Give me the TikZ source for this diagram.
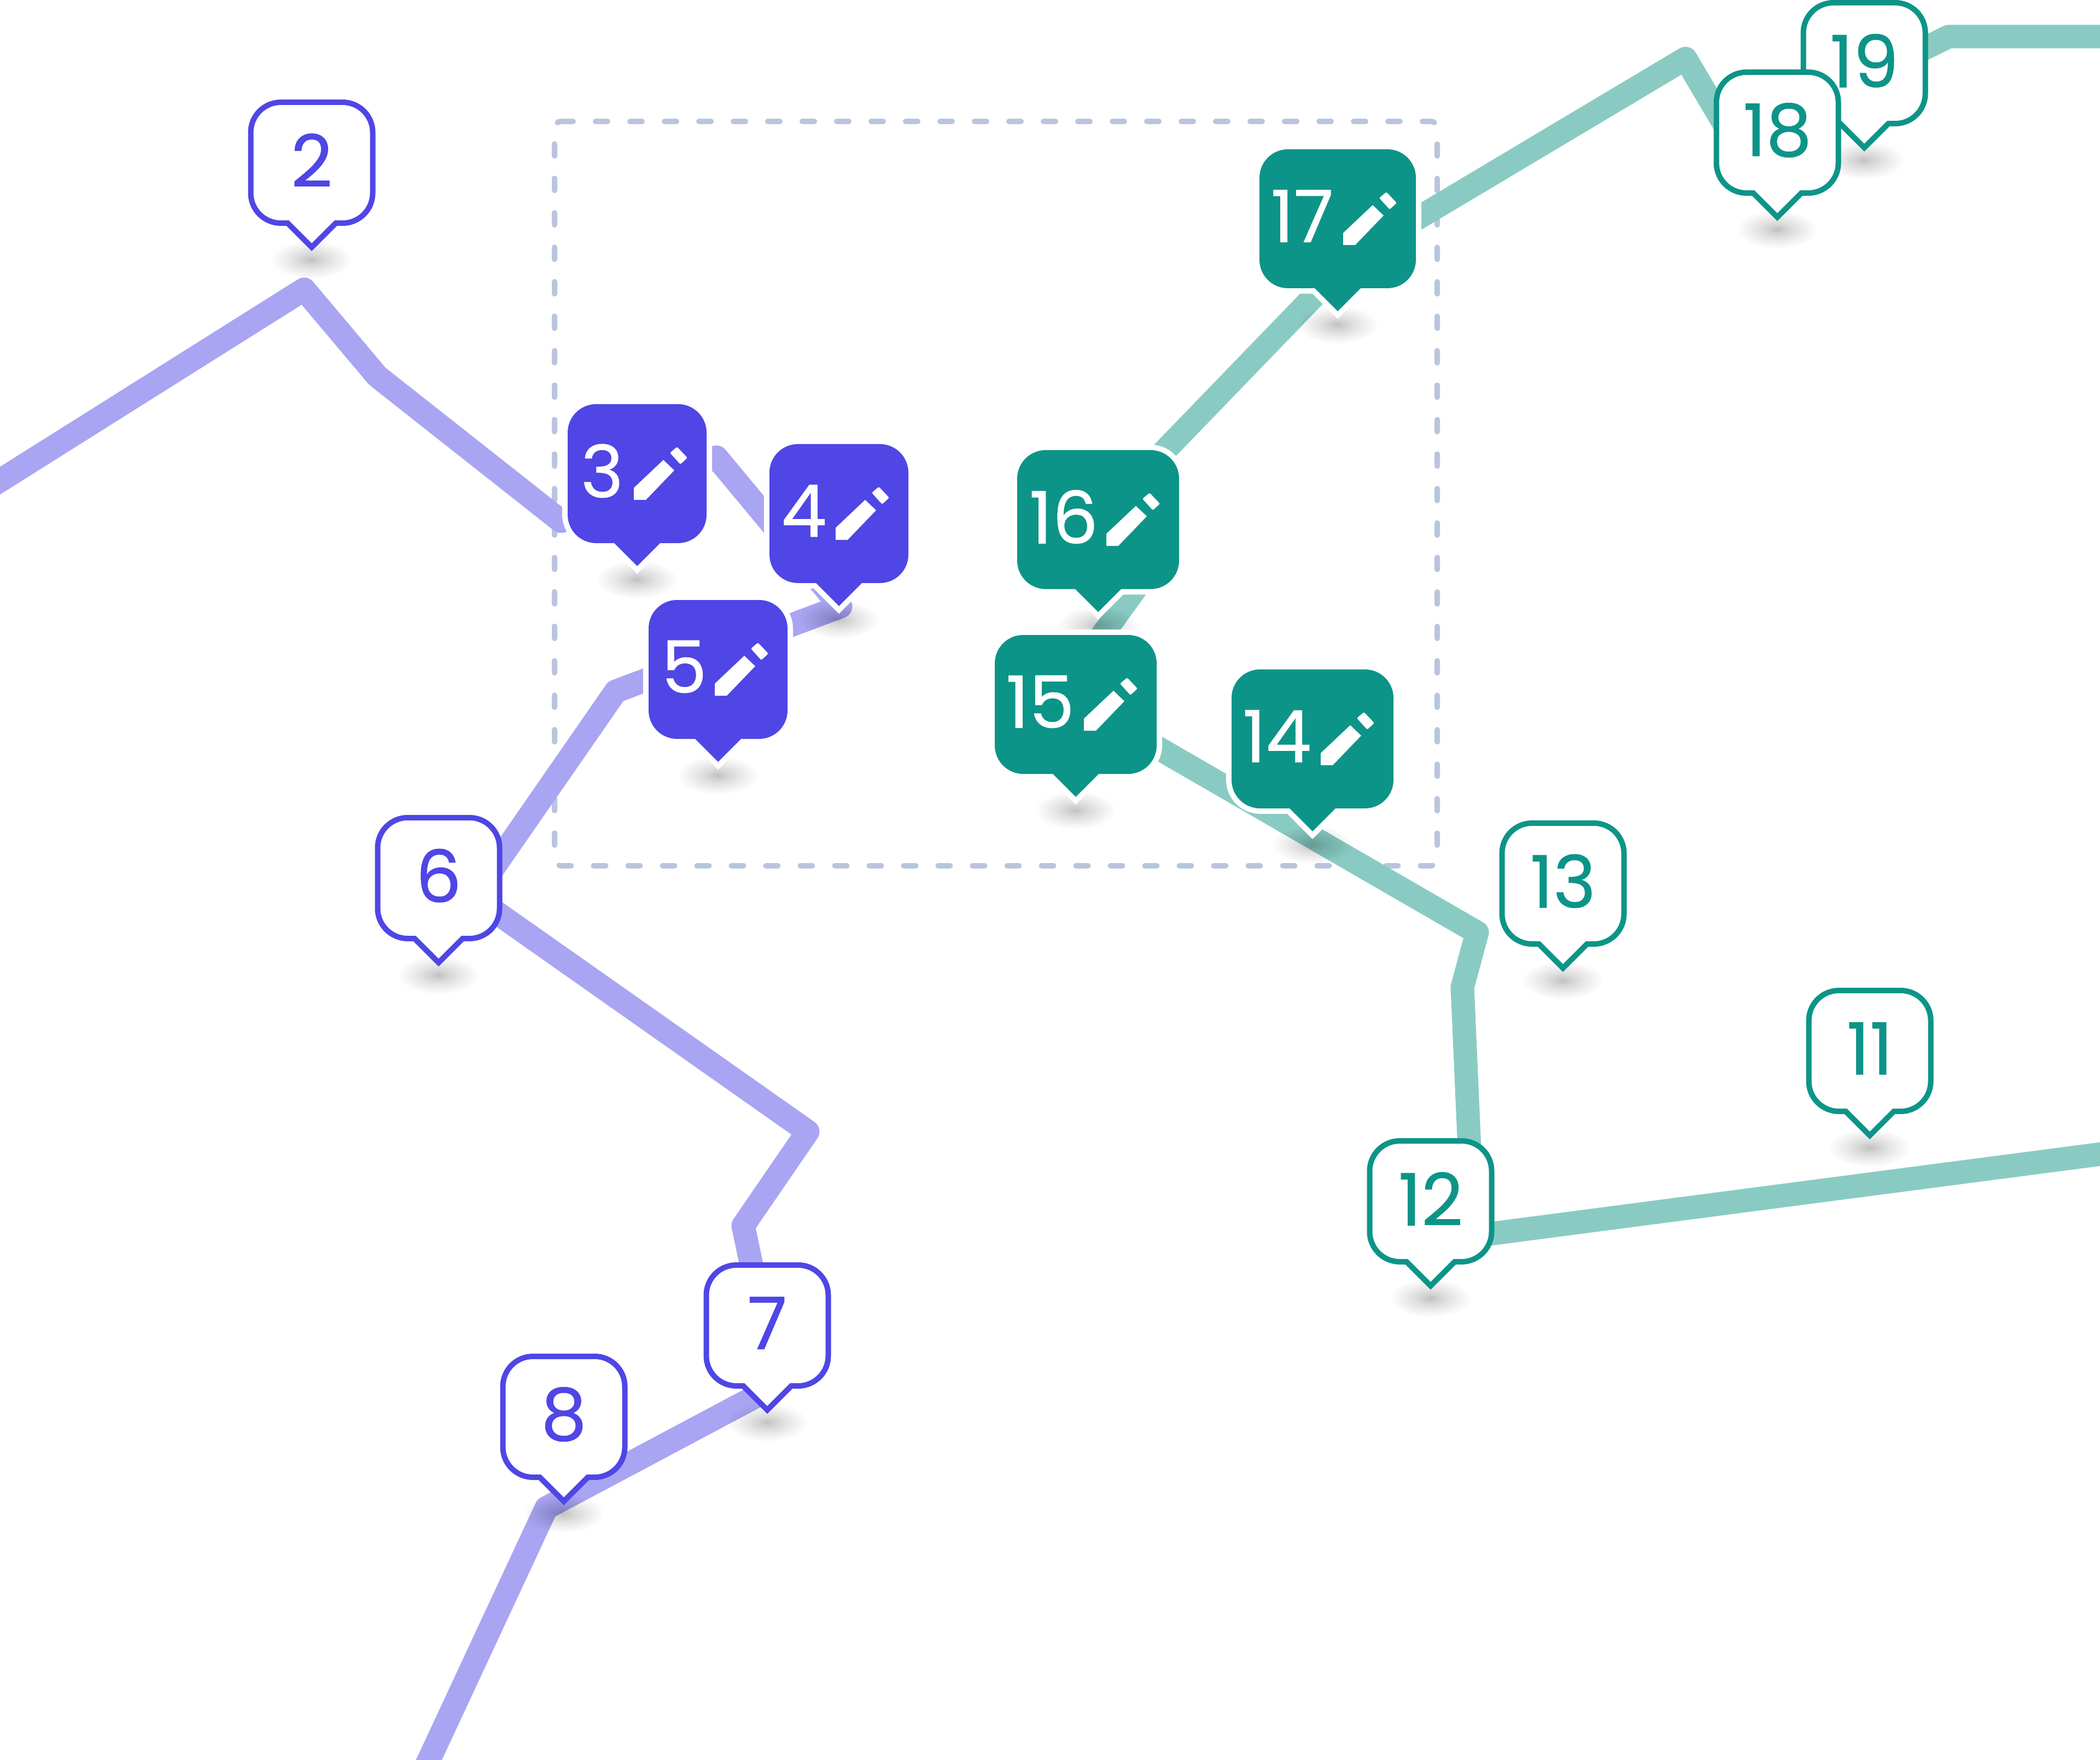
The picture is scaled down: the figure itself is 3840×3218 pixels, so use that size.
\documentclass[tikz,border=0pt]{standalone}
\usepackage{fontspec}
\setmainfont{Poppins}
\newfontfamily\digitfont[FakeBold=0.7]{Poppins}
\definecolor{indigoD}{HTML}{4F46E5}
\definecolor{indigoL}{HTML}{A9A5F2}
\definecolor{tealD}{HTML}{0D9488}
\definecolor{tealL}{HTML}{89CBC2}
\definecolor{frameC}{HTML}{B9C5DD}
\tikzset{
  trace/.style={line width=10.75pt,line join=round,line cap=round},
  frameline/.style={draw=frameC,line width=2.5pt,line cap=round,dash pattern=on 5.5pt off 10.25pt,rounded corners=3pt},
  digit/.style={inner sep=0pt,font=\digitfont\fontsize{33}{33}\selectfont},
  halo/.style={draw=white,line width=5pt,miter limit=10,line join=miter},
  outline/.style={line width=2.5pt,fill=white,miter limit=10,line join=miter}
}
% soft shadow: stacked translucent ellipses
\newcommand{\softshadow}[2]{%
  \foreach \i in {1,...,16}{%
    \pgfmathsetmacro\rx{18*(\i/16)^1.4}%
    \pgfmathsetmacro\ry{8.5*(\i/16)^1.4}%
    \fill[black,opacity=0.017] (#1,#2) ellipse [x radius=\rx pt,y radius=\ry pt];
  }%
}
% \markerpath{tipx}{bottom}{tipy}{halfwidth}{top}{pointer half}{corner radius in px}
\newcommand{\markerpath}[7]{%
  ({#1+#4},{#2-#7}) arc [start angle=0,end angle=-90,radius=#7*0.25pt]
  -- ({#1+#6},#2) -- (#1,#3) -- ({#1-#6},#2) -- ({#1-#4+#7},#2)
  arc [start angle=270,end angle=180,radius=#7*0.25pt]
  -- ({#1-#4},{#5+#7}) arc [start angle=180,end angle=90,radius=#7*0.25pt]
  -- ({#1+#4-#7},#5) arc [start angle=90,end angle=0,radius=#7*0.25pt] -- cycle
}
% \filledmark{name}{text}{tipx}{tipy}{halfwidth}{digit offset from left}{colour}
\newcommand{\filledmark}[7]{%
  \begingroup
  \pgfmathsetmacro\bot{#4-42}\pgfmathsetmacro\tp{#4-296}%
  \pgfmathsetmacro\rgt{#3+#5}\pgfmathsetmacro\lft{#3-#5}%
  \softshadow{#3}{#4+25}%
  \path[halo] \markerpath{#3}{\bot}{#4}{#5}{\tp}{42}{52};
  \fill[#7] \markerpath{#3}{\bot}{#4}{#5}{\tp}{42}{52};
  \node[digit,text=white] (#1) at ({\lft+#6},{\tp+122}) {#2};
  \begin{scope}[shift={(\rgt,\tp)}]
    \fill[white] (-133,153) -- (-79,102) -- (-59,121) -- (-111,175) -- (-133,175) -- cycle;
    \fill[white,rounded corners=0.6pt] (-67,89) -- (-54,78) -- (-35,98) -- (-48,110) -- cycle;
  \end{scope}
  \endgroup
}
% \openmark{name}{text}{tipx}{outer tipy}{colour}
\newcommand{\openmark}[5]{%
  \begingroup
  \pgfmathsetmacro\tipc{#4-7}\pgfmathsetmacro\bot{#4-51}\pgfmathsetmacro\tp{#4-272}%
  \softshadow{#3}{#4+16}%
  \draw[#5,outline] \markerpath{#3}{\bot}{\tipc}{111.5}{\tp}{44}{55};
  \node[digit,text=#5] (#1) at (#3,{#4-166}) {#2};
  \endgroup
}
\begin{document}
\begin{tikzpicture}[x=0.25pt,y=-0.25pt]
\clip (0,0) rectangle (3840,3218);
\fill[white] (0,0) rectangle (3840,3218);
% selection frame
\coordinate (fa) at (1014,222); \coordinate (fb) at (2628,222);
\coordinate (fc) at (2628,1583); \coordinate (fd) at (1014,1583);
\draw[frameline] (fa) -- (fb) -- (fc) -- (fd) -- cycle;
% indigo trace
\coordinate (a0) at (-40,904);
\coordinate (a1) at (556,529);
\coordinate (a2) at (690,688);
\coordinate (a3) at (1026,953);
\coordinate (a4) at (1310,836);
\coordinate (a5) at (1537,1109);
\coordinate (a6) at (1126,1264);
\coordinate (a7) at (866,1639);
\coordinate (a8) at (1477,2069);
\coordinate (a9) at (1359,2241);
\coordinate (a10) at (1420,2533);
\coordinate (a11) at (999,2757);
\coordinate (a12) at (760,3270);
\draw[trace,indigoL] (a0) -- (a1) -- (a2) -- (a3) -- (a4) -- (a5) -- (a6) -- (a7) -- (a8) -- (a9) -- (a10) -- (a11) -- (a12);
% teal trace
\coordinate (b0) at (3880,2105);
\coordinate (b1) at (2694,2260);
\coordinate (b2) at (2674,1805);
\coordinate (b3) at (2701,1705);
\coordinate (b4) at (1940,1265);
\coordinate (b5) at (2103,1040);
\coordinate (b6) at (2008,950);
\coordinate (b7) at (2470,472);
\coordinate (b8) at (3082,107);
\coordinate (b9) at (3202,310);
\coordinate (b10) at (3400,147);
\coordinate (b11) at (3563,67);
\coordinate (b12) at (3880,67);
\draw[trace,tealL] (b0) -- (b1) -- (b2) -- (b3) -- (b4) -- (b5) -- (b6) -- (b7) -- (b8) -- (b9) -- (b10) -- (b11) -- (b12);
% markers, last drawn on top
\openmark{m19}{19}{3409}{277}{tealD}
\openmark{m18}{18}{3250}{404}{tealD}
\filledmark{m17}{17}{2446}{569}{143}{78}{tealD}
\filledmark{m16}{16}{2008}{1119}{148}{85}{tealD}
\filledmark{m15}{15}{1967}{1457}{148}{83}{tealD}
\filledmark{m14}{14}{2400}{1520}{148}{83}{tealD}
\openmark{m13}{13}{2858}{1777}{tealD}
\openmark{m12}{12}{2616}{2358}{tealD}
\openmark{m11}{11}{3419}{2083}{tealD}
\openmark{m8}{8}{1031}{2752}{indigoD}
\openmark{m7}{7}{1403}{2585}{indigoD}
\openmark{m6}{6}{802}{1767}{indigoD}
\filledmark{m5}{5}{1313}{1393}{127}{65}{indigoD}
\filledmark{m4}{4}{1534}{1108}{127}{63}{indigoD}
\filledmark{m3}{3}{1165}{1035}{127}{63}{indigoD}
\openmark{m2}{2}{570}{459}{indigoD}
\end{tikzpicture}
\end{document}
